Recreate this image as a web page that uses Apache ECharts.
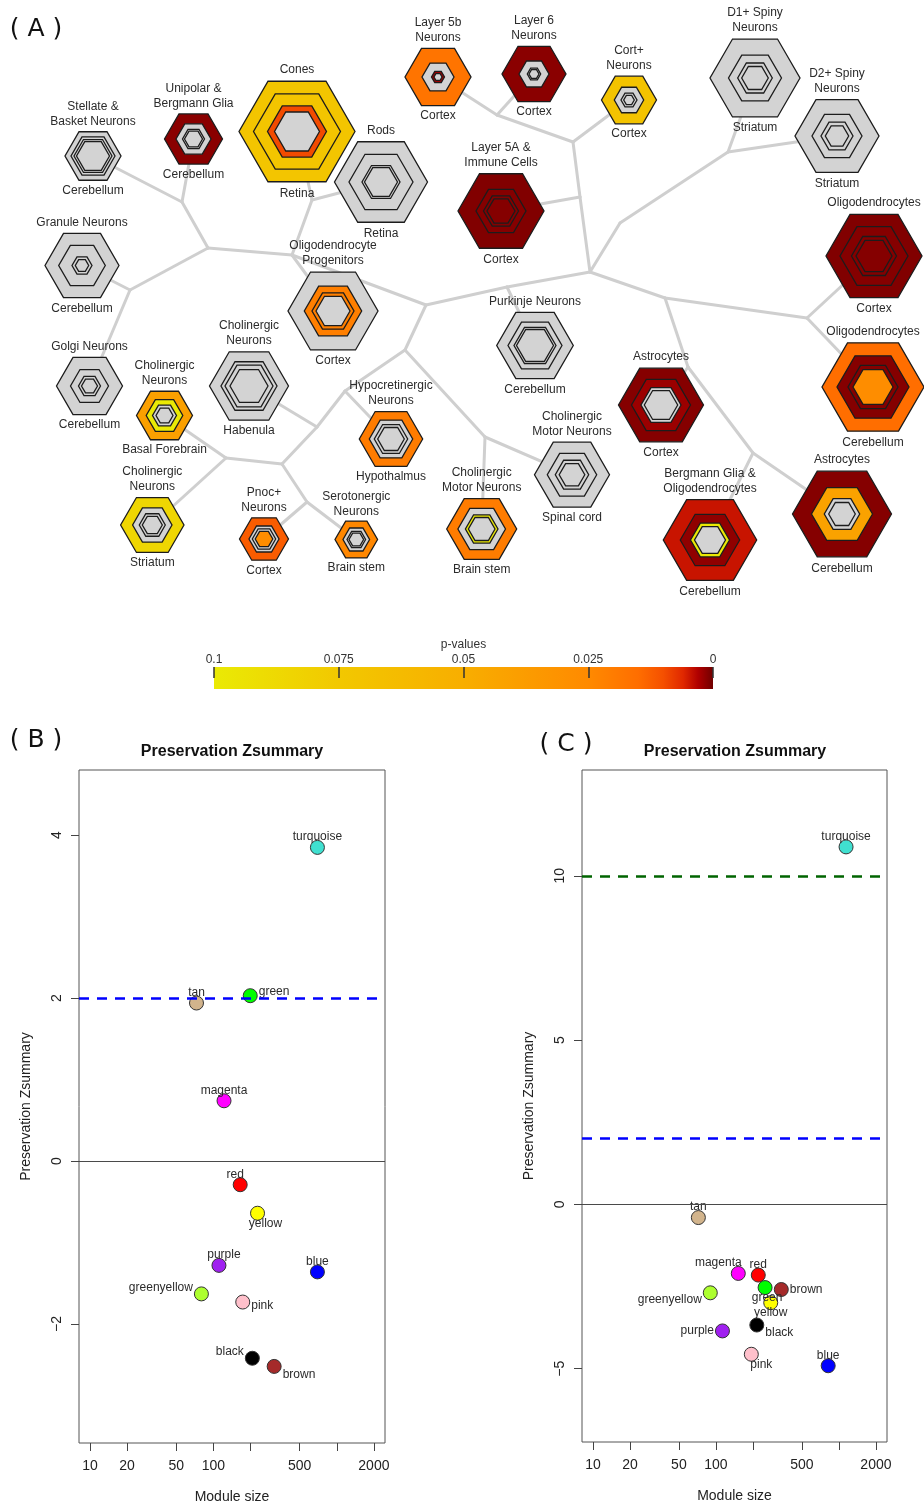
<!DOCTYPE html>
<html>
<head>
<meta charset="utf-8">
<script src="https://cdn.jsdelivr.net/npm/echarts@6/dist/echarts.min.js"></script>
<style>
  html, body { margin: 0; padding: 0; background: #ffffff; }
  #chart { width: 924px; height: 1506px; }
</style>
</head>
<body>
<div id="chart"></div>
<script>
// ---------------- Panel A: cell-type tree with nested hexagons ----------------
const leafIds = ['stellate', 'unipolar', 'cones', 'rods', 'layer5b', 'layer6', 'cortPlus', 'd1', 'd2',
  'layer5a', 'granule', 'oligoProg', 'oligoCortex', 'purkinje', 'oligoCereb', 'golgi', 'cholHab',
  'cholBasal', 'hypo', 'astroCortex', 'motorSpinal', 'bergmann', 'astroCereb', 'cholStriatum',
  'motorBrainstem', 'pnoc', 'serotonergic'];

const cellTypes = ['Stellate &\nBasket Neurons', 'Unipolar &\nBergmann Glia', 'Cones', 'Rods',
  'Layer 5b\nNeurons', 'Layer 6\nNeurons', 'Cort+\nNeurons', 'D1+ Spiny\nNeurons', 'D2+ Spiny\nNeurons',
  'Layer 5A &\nImmune Cells', 'Granule Neurons', 'Oligodendrocyte\nProgenitors', 'Oligodendrocytes',
  'Purkinje Neurons', 'Oligodendrocytes', 'Golgi Neurons', 'Cholinergic\nNeurons', 'Cholinergic\nNeurons',
  'Hypocretinergic\nNeurons', 'Astrocytes', 'Cholinergic\nMotor Neurons', 'Bergmann Glia &\nOligodendrocytes',
  'Astrocytes', 'Cholinergic\nNeurons', 'Cholinergic\nMotor Neurons', 'Pnoc+\nNeurons', 'Serotonergic\nNeurons'];

const regions = ['Cerebellum', 'Cerebellum', 'Retina', 'Retina', 'Cortex', 'Cortex', 'Cortex', 'Striatum',
  'Striatum', 'Cortex', 'Cerebellum', 'Cortex', 'Cortex', 'Cerebellum', 'Cerebellum', 'Cerebellum',
  'Habenula', 'Basal Forebrain', 'Hypothalmus', 'Cortex', 'Spinal cord', 'Cerebellum', 'Cerebellum',
  'Striatum', 'Brain stem', 'Cortex', 'Brain stem'];

// tree layout coordinates of the leaves
const nodeX = [93, 193.5, 297, 381, 438, 534, 629, 755, 837, 501, 82, 333, 874, 535, 873, 89.5, 249,
  164.5, 391, 661, 572, 710, 842, 152.3, 481.7, 264, 356.3];
const nodeY = [156, 139, 131.5, 182, 77, 74, 100, 78, 136, 211, 265.5, 311, 256, 345.5, 387, 386, 386,
  415.5, 439, 405, 474.7, 540, 514, 525, 529, 539, 539.5];

// nested hexagon sizes (outer to inner set)
const hexRadii = [
  [28, 22, 19, 16.5], [29, 17.5, 11, 9], [58, 43.5, 29.5, 22.5], [46.5, 32, 19, 16.5],
  [33, 16, 6.5, 4], [32, 15, 6.7, 5], [27.5, 14.7, 8, 5.3], [45, 26.5, 17.3, 13.3],
  [42, 25, 16, 11.7], [43, 25, 17.5, 14], [37, 23.3, 10, 6.7], [45, 28.7, 21, 17],
  [48, 34, 22.5, 18], [38.3, 27, 21, 18.5], [51, 36, 25, 20], [33, 19, 11, 8],
  [39.5, 28, 24, 19], [28, 18.3, 12, 8.5], [31.7, 21.7, 16.7, 13.3], [42.5, 29.5, 20, 16.7],
  [37.5, 24.7, 16.7, 12.8], [46.7, 29.7, 19.5, 15.5], [49.5, 30.5, 17.7, 13.3], [31.7, 19.7, 13, 10],
  [35, 23.8, 16.3, 13.3], [24.5, 15, 11.7, 8.8], [21.3, 13.3, 9.3, 7.3]
];

// enrichment p-values of each nested set (null: not significant)
const hexPValues = [
  [null, null, null, null], [0.0012, null, null, null], [0.072, 0.072, 0.0095, null], [null, null, null, null],
  [0.017, null, 0.002, null], [0.0012, null, null, null], [0.07, null, null, null], [null, null, null, null],
  [null, null, null, null], [0.0008, 0.001, 0.001, 0.001], [null, null, null, null], [null, 0.021, 0.021, null],
  [0.0008, 0.001, 0.001, 0.001], [null, null, null, null], [0.015, 0.001, 0.001, 0.027], [null, null, null, null],
  [null, null, null, null], [0.04, 0.099, null, null], [0.02, null, null, null], [0.001, 0.002, null, null],
  [null, null, null, null], [0.0045, 0.0015, 0.099, null], [0.001, 0.042, null, null], [0.085, null, null, null],
  [0.02, null, 0.099, null], [0.012, null, null, 0.027], [0.024, null, null, null]
];

// internal branch points of the tree
const branchIds = ['b1', 'b2', 'b3', 'b4', 'b5', 'b6', 'b7', 'b8', 'b9', 'b10', 'b11', 'b12', 'q', 'r',
  'b14', 'b15', 'b16', 'b17', 'b18', 'b19', 'b20', 'b21', 'b22', 'b23'];
const branchX = [182, 208, 292, 130, 426, 312, 405, 590, 507, 580, 573, 497, 620, 728, 665, 807, 688, 753,
  485, 317, 282, 226, 307, 345];
const branchY = [202, 248, 255, 290, 305, 200, 350, 272, 287, 197, 142, 115, 223, 152, 298, 318, 367, 453,
  437, 427, 464, 458, 502, 391];

const treeEdges = [
  ['stellate', 'b1'], ['unipolar', 'b1'], ['b1', 'b2'], ['b2', 'b4'], ['b4', 'granule'], ['b4', 'golgi'],
  ['b2', 'b3'], ['b3', 'b6'], ['b6', 'cones'], ['b6', 'rods'], ['b3', 'oligoProg'], ['b3', 'b5'],
  ['b5', 'b9'], ['b5', 'b7'], ['b9', 'purkinje'], ['b9', 'b8'], ['b8', 'b10'], ['b10', 'layer5a'],
  ['b10', 'b11'], ['b11', 'cortPlus'], ['b11', 'b12'], ['b12', 'layer5b'], ['b12', 'layer6'],
  ['b8', 'q'], ['q', 'r'], ['r', 'd1'], ['r', 'd2'], ['b8', 'b14'], ['b14', 'b15'],
  ['b15', 'oligoCortex'], ['b15', 'oligoCereb'], ['b14', 'b16'], ['b16', 'astroCortex'], ['b16', 'b17'],
  ['b17', 'bergmann'], ['b17', 'astroCereb'], ['b7', 'b18'], ['b18', 'motorSpinal'],
  ['b18', 'motorBrainstem'], ['b7', 'b23'], ['b23', 'hypo'], ['b23', 'b19'], ['b19', 'cholHab'],
  ['b19', 'b20'], ['b20', 'b21'], ['b21', 'cholBasal'], ['b21', 'cholStriatum'], ['b20', 'b22'],
  ['b22', 'pnoc'], ['b22', 'serotonergic']
];

// colour bar
const pTicks = [0.1, 0.075, 0.05, 0.025, 0];

// ---------------- Panels B and C: module preservation ----------------
const modules = ['turquoise', 'blue', 'brown', 'yellow', 'green', 'red', 'black', 'pink', 'magenta',
  'purple', 'greenyellow', 'tan'];
const moduleSizeB = [697, 697, 311, 228, 199, 165, 207, 173, 122, 111, 80, 73];
const zSummaryB = [3.85, -1.36, -2.52, -0.64, 2.03, -0.29, -2.42, -1.73, 0.74, -1.28, -1.63, 1.94];
const moduleSizeC = [1143, 818, 340, 279, 251, 221, 215, 194, 152, 113, 90, 72];
const zSummaryC = [10.88, -4.91, -2.59, -2.99, -2.53, -2.15, -3.67, -4.56, -2.10, -3.85, -2.69, -0.40];

const sizeTicks = [10, 20, 50, 100, 200, 500, 1000, 2000];
const sizeTickLabels = [10, 20, 50, 100, 500, 2000];
const zTicksB = [-2, 0, 2, 4];
const zTicksC = [-5, 0, 5, 10];
const thresholdsB = [2];
const thresholdsC = [2, 10];

// ---------------- styling helpers ----------------
const FONT = '"Liberation Sans", Arial, sans-serif';
const GREY_NS = '#d3d3d3';
const rampStops = [
  [0, '#700000'], [0.003, '#b00000'], [0.006, '#e02800'], [0.01, '#f55000'], [0.015, '#ff6e00'],
  [0.025, '#ff8a00'], [0.05, '#f8ae00'], [0.075, '#f2c800'], [0.1, '#eaea05']
];
const rColors = {
  turquoise: '#40e0d0', blue: '#0000ff', brown: '#a52a2a', yellow: '#ffff00', green: '#00ff00',
  red: '#ff0000', black: '#000000', pink: '#ffc0cb', magenta: '#ff00ff', purple: '#a020f0',
  greenyellow: '#adff2f', tan: '#d2b48c'
};
// label placement of each module name: [position, dx, dy]
const placeB = [['top'], ['top'], ['right', 0, 8], ['bottom', 8, 0], ['right', 0, -4], ['top', -5, 0],
  ['left', 0, -7], ['right', 0, 4], ['top'], ['top', 5, 0], ['left', 0, -6], ['top']];
const placeC = [['top'], ['top'], ['right'], ['bottom'], ['bottom', 2, 0], ['top'], ['right', 0, 8],
  ['bottom', 10, 0], ['top', -20, 0], ['left'], ['left', 0, 7], ['top']];

function hex2rgb(h) { return [1, 3, 5].map(i => parseInt(h.substr(i, 2), 16)); }
function pColor(p) {
  if (p === null || p === undefined) return GREY_NS;
  for (let k = 1; k < rampStops.length; k++) {
    if (p <= rampStops[k][0]) {
      const [p0, c0] = rampStops[k - 1], [p1, c1] = rampStops[k];
      const t = (p - p0) / (p1 - p0);
      const a = hex2rgb(c0), b = hex2rgb(c1);
      return 'rgb(' + a.map((v, j) => Math.round(v + (b[j] - v) * t)).join(',') + ')';
    }
  }
  return rampStops[rampStops.length - 1][1];
}

const pointIndex = {};
leafIds.forEach((id, i) => { pointIndex[id] = [nodeX[i], nodeY[i]]; });
branchIds.forEach((id, i) => { pointIndex[id] = [branchX[i], branchY[i]]; });

function hexPoints(cx, cy, r) {
  const pts = [];
  for (let k = 0; k < 6; k++) {
    const a = Math.PI / 3 * k;
    pts.push([cx + r * Math.cos(a), cy + r * Math.sin(a)]);
  }
  return pts;
}

function renderHexNode(params, api) {
  const i = api.value(2);
  const c = api.coord([api.value(0), api.value(1)]);
  const u = api.size([1, 1]);
  const ux = Math.abs(u[0]), uy = Math.abs(u[1]);
  const children = hexRadii[i].map((r, k) => ({
    type: 'polygon',
    shape: { points: hexPoints(c[0], c[1], r * ux) },
    style: { fill: pColor(hexPValues[i][k]), stroke: '#1c1c1c', lineWidth: 1.3 }
  }));
  const R = hexRadii[i][0];
  const halfH = R * Math.sqrt(3) / 2 * uy;
  const gap = 1 + 0.06 * R;
  const txt = { fontSize: 12, fontFamily: FONT, fill: '#2b2b2b', lineHeight: 15, align: 'center' };
  children.push({ type: 'text', style: Object.assign({ text: cellTypes[i], x: c[0], y: c[1] - halfH - gap, verticalAlign: 'bottom' }, txt) });
  children.push({ type: 'text', style: Object.assign({ text: regions[i], x: c[0], y: c[1] + halfH + gap, verticalAlign: 'top' }, txt) });
  return { type: 'group', children };
}

function renderEdge(params, api) {
  const a = api.coord([api.value(0), api.value(1)]);
  const b = api.coord([api.value(2), api.value(3)]);
  return {
    type: 'line',
    shape: { x1: a[0], y1: a[1], x2: b[0], y2: b[1] },
    style: { stroke: '#cfcfcf', lineWidth: 3, lineCap: 'round' }
  };
}

function renderColorBar(params, api) {
  const a = api.coord([pTicks[0], 1]);
  const b = api.coord([pTicks[pTicks.length - 1], 0]);
  const x = Math.min(a[0], b[0]), y = Math.min(a[1], b[1]);
  const stops = rampStops.map(([p, col]) => ({ offset: 1 - p / pTicks[0], color: col })).reverse();
  return {
    type: 'rect',
    shape: { x, y, width: Math.abs(b[0] - a[0]), height: Math.abs(b[1] - a[1]) },
    style: { fill: new echarts.graphic.LinearGradient(0, 0, 1, 0, stops) }
  };
}

const minus = v => (v < 0 ? '\u2212' + Math.abs(v) : String(v));

function scatterData(sizes, zs, place) {
  return modules.map((m, i) => {
    const [pos, dx, dy] = place[i];
    const vertical = pos === 'top' || pos === 'bottom';
    return {
      name: m,
      value: [sizes[i], zs[i]],
      itemStyle: { color: rColors[m] },
      label: { position: pos, distance: vertical ? -3 : 1, offset: [dx || 0, dy || 0] }
    };
  });
}

function preservationAxes(gridIndex, zMin, zMax, zTicks) {
  const x = {
    type: 'log', logBase: 10, gridIndex, min: 8.15, max: 2460,
    axisLine: { show: false, onZero: false }, splitLine: { show: false }, minorTick: { show: false },
    axisTick: { show: true, inside: false, length: 8, customValues: sizeTicks, lineStyle: { color: '#444', width: 1 } },
    axisLabel: {
      customValues: sizeTicks, margin: 16, fontSize: 14, color: '#222', fontFamily: FONT,
      formatter: v => (sizeTickLabels.indexOf(Math.round(v)) >= 0 ? String(Math.round(v)) : '')
    },
    name: 'Module size', nameLocation: 'middle', nameGap: 47,
    nameTextStyle: { fontSize: 14, color: '#222', fontFamily: FONT }
  };
  const y = {
    type: 'value', gridIndex, min: zMin, max: zMax,
    axisLine: { show: false, onZero: false }, splitLine: { show: false },
    axisTick: { show: true, inside: false, length: 8, customValues: zTicks, lineStyle: { color: '#444', width: 1 } },
    axisLabel: { customValues: zTicks, rotate: 90, margin: 15, fontSize: 14, color: '#222', fontFamily: FONT, formatter: minus },
    name: 'Preservation Zsummary', nameLocation: 'middle', nameGap: 46, nameRotate: 90,
    nameTextStyle: { fontSize: 14, color: '#222', fontFamily: FONT }
  };
  return [x, y];
}

function thresholdSeries(xi, thresholds, colors) {
  return {
    type: 'scatter', xAxisIndex: xi, yAxisIndex: xi, data: [], z: 1, silent: true,
    markLine: {
      silent: true, symbol: ['none', 'none'], label: { show: false }, animation: false,
      data: [{ yAxis: 0, lineStyle: { color: '#4a4a4a', width: 1, type: 'solid' } }].concat(
        thresholds.map((t, k) => ({ yAxis: t, lineStyle: { color: colors[k], width: 2.5, type: [10, 8] } })))
    }
  };
}

function moduleSeries(xi, sizes, zs, place) {
  return {
    type: 'scatter', xAxisIndex: xi, yAxisIndex: xi, z: 3,
    symbolSize: 14,
    itemStyle: { borderColor: '#333', borderWidth: 1, opacity: 1 },
    label: { show: true, formatter: '{b}', fontSize: 12, color: '#2b2b2b', fontFamily: FONT },
    data: scatterData(sizes, zs, place)
  };
}

const [xB, yB] = preservationAxes(2, -3.46, 4.8, zTicksB);
const [xC, yC] = preservationAxes(3, -7.23, 13.22, zTicksC);

const chart = echarts.init(document.getElementById('chart'), null, { renderer: 'canvas' });
chart.setOption({
  animation: false,
  backgroundColor: '#ffffff',
  textStyle: { fontFamily: FONT },
  grid: [
    { left: 0, top: 0, width: 924, height: 620, outerBoundsMode: 'none' },
    { left: 214, top: 667, width: 499, height: 22, outerBoundsMode: 'none' },
    { left: 79, top: 770, width: 306, height: 673, outerBoundsMode: 'none', show: true, borderColor: '#555', borderWidth: 1, backgroundColor: 'transparent' },
    { left: 582, top: 770, width: 305, height: 672, outerBoundsMode: 'none', show: true, borderColor: '#555', borderWidth: 1, backgroundColor: 'transparent' }
  ],
  xAxis: [
    { type: 'value', gridIndex: 0, min: 0, max: 924, show: false },
    {
      type: 'value', gridIndex: 1, min: 0, max: 0.1, inverse: true, position: 'top', z: 10,
      axisLine: { show: false, onZero: false }, splitLine: { show: false },
      axisTick: { show: true, inside: true, length: 11, customValues: pTicks, lineStyle: { color: '#333', width: 1.5 } },
      axisLabel: { customValues: pTicks, margin: 1, fontSize: 12, color: '#333', formatter: v => String(parseFloat(v.toFixed(3))) },
      name: 'p-values', nameLocation: 'middle', nameGap: 16,
      nameTextStyle: { fontSize: 12, color: '#333' }
    },
    xB, xC
  ],
  yAxis: [
    { type: 'value', gridIndex: 0, min: 0, max: 620, inverse: true, show: false },
    { type: 'value', gridIndex: 1, min: 0, max: 1, show: false },
    yB, yC
  ],
  graphic: [
    { type: 'text', x: 36, y: 29, style: { text: '( A )', font: '25px "DejaVu Sans"', fill: '#111', align: 'center', verticalAlign: 'middle' } },
    { type: 'text', x: 36, y: 740, style: { text: '( B )', font: '25px "DejaVu Sans"', fill: '#111', align: 'center', verticalAlign: 'middle' } },
    { type: 'text', x: 566, y: 744, style: { text: '( C )', font: '25px "DejaVu Sans"', fill: '#111', align: 'center', verticalAlign: 'middle' } },
    { type: 'text', x: 232, y: 752, style: { text: 'Preservation Zsummary', font: 'bold 16px "Liberation Sans"', fill: '#111', align: 'center', verticalAlign: 'middle' } },
    { type: 'text', x: 735, y: 752, style: { text: 'Preservation Zsummary', font: 'bold 16px "Liberation Sans"', fill: '#111', align: 'center', verticalAlign: 'middle' } }
  ],
  series: [
    {
      type: 'custom', name: 'branches', xAxisIndex: 0, yAxisIndex: 0, z: 1, silent: true,
      encode: { x: [0, 2], y: [1, 3] },
      renderItem: renderEdge,
      data: treeEdges.map(([a, b]) => pointIndex[a].concat(pointIndex[b]))
    },
    {
      type: 'custom', name: 'cell types', xAxisIndex: 0, yAxisIndex: 0, z: 2, silent: true,
      encode: { x: 0, y: 1 },
      renderItem: renderHexNode,
      data: nodeX.map((x, i) => [x, nodeY[i], i])
    },
    {
      type: 'custom', name: 'p-value scale', xAxisIndex: 1, yAxisIndex: 1, z: 1, silent: true,
      renderItem: renderColorBar,
      data: [[pTicks[0], 1]]
    },
    thresholdSeries(2, thresholdsB, ['#0000ff']),
    moduleSeries(2, moduleSizeB, zSummaryB, placeB),
    thresholdSeries(3, thresholdsC, ['#0000ff', '#006400']),
    moduleSeries(3, moduleSizeC, zSummaryC, placeC)
  ]
});
</script>
</body>
</html>
